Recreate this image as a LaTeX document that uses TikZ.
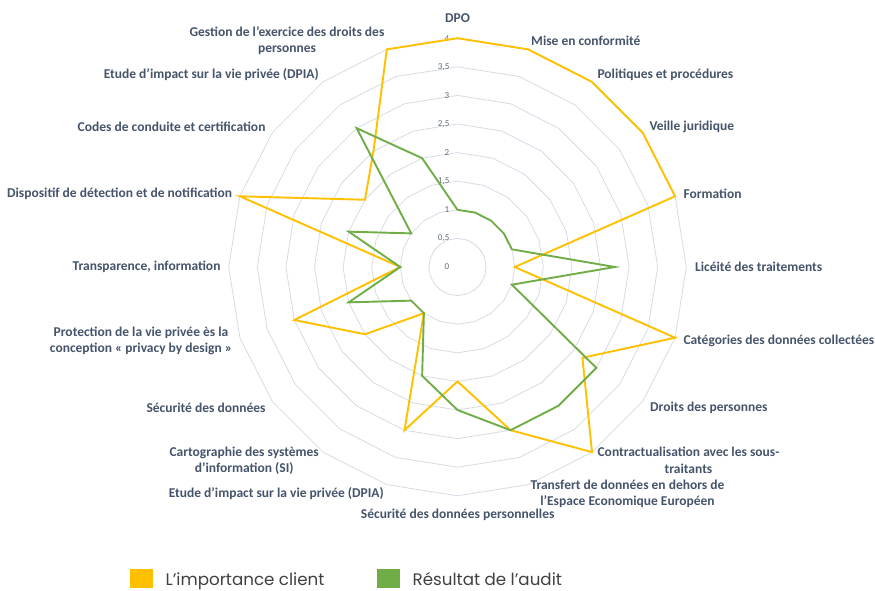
\documentclass[tikz,border=0pt]{standalone}
\usepackage{fontspec}
\setmainfont{Carlito}
\newfontfamily\legendfont{Poppins}
\usetikzlibrary{positioning}
\definecolor{clientyellow}{HTML}{FFC000}
\definecolor{auditgreen}{HTML}{70AD47}
\definecolor{gridgrey}{HTML}{D6DBE4}
\definecolor{labelslate}{HTML}{44546A}
\definecolor{tickgrey}{HTML}{5F6B7A}
\definecolor{legendgrey}{HTML}{404040}
\tikzset{
x=1pt, y=-1pt,
axis label/.style={font=\bfseries\fontsize{13.5}{16.5}\selectfont, text=labelslate, align=center, inner sep=0pt},
tick label/.style={font=\fontsize{9}{10}\selectfont, text=tickgrey, anchor=east, inner sep=0pt},
ring/.style={draw=gridgrey, line width=0.8pt},
series/.style={line width=1.9pt, line join=miter},
legend box/.style={minimum width=23pt, minimum height=19pt, inner sep=0pt},
legend text/.style={font=\legendfont\fontsize{16.7}{20}\selectfont, text=legendgrey, anchor=base west, inner sep=0pt}
}

\begin{document}
\begin{tikzpicture}
\useasboundingbox (0,0) rectangle (875,590);

% grid and series, centred on the chart origin
\begin{scope}[shift={(457.5,267)}]
\foreach \v in {0.5,1,...,4}
  \draw[ring] plot[samples=21, domain=0:360] ({57.2*\v*sin(\x)},{-57.2*\v*cos(\x)});
\foreach \v/\t in {0/0,0.5/{0,5},1/1,1.5/{1,5},2/2,2.5/{2,5},3/3,3.5/{3,5},4/4}
  \node[tick label] at (-8,{-57.2*\v}) {\t};

\foreach \val [count=\i from 0] in {4,4,4,4,4,1,4,2.7,4,3,2,3,1,2,3,1,4,2,2.5,4}
  \coordinate (y\i) at ({57.2*\val*sin(18*\i)},{-57.2*\val*cos(18*\i)});
\foreach \val [count=\i from 0] in {1,1,1,1,1,2.75,1,3,3,3,2.5,2,1,1,2,1,2,1,3,2}
  \coordinate (g\i) at ({57.2*\val*sin(18*\i)},{-57.2*\val*cos(18*\i)});

\draw[series, draw=clientyellow] (y0) \foreach \i in {1,...,19}{ -- (y\i)} -- cycle;
\draw[series, draw=auditgreen] (g0) \foreach \i in {1,...,19}{ -- (g\i)} -- cycle;
\end{scope}

% axis labels
\node[axis label]             (dpo)          at (457.5,18)  {DPO};
\node[axis label,anchor=west] (mise)         at (531,40.7)  {Mise en conformité};
\node[axis label,anchor=west] (politiques)   at (597.3,74.7) {Politiques et procédures};
\node[axis label,anchor=west] (veille)       at (649.3,126.7) {Veille juridique};
\node[axis label,anchor=west] (formation)    at (683.3,193.3) {Formation};
\node[axis label,anchor=west] (liceite)      at (695,266.7) {Licéité des traitements};
\node[axis label,anchor=west] (categories)   at (683.3,340.7) {Catégories des données collectées};
\node[axis label,anchor=west] (droits)       at (650,407.7) {Droits des personnes};
\node[axis label]             (contrat)      at (688.5,460.3) {Contractualisation avec les sous-\\traitants};
\node[axis label]             (transfert)    at (627.5,493.7) {Transfert de données en dehors de\\l’Espace Economique Européen};
\node[axis label]             (secdp)        at (457.7,515) {Sécurité des données personnelles};
\node[axis label]             (etudebas)     at (276.3,493.3) {Etude d’impact sur la vie privée (DPIA)};
\node[axis label]             (carto)        at (244.2,460.7) {Cartographie des systèmes\\d’information (SI)};
\node[axis label,anchor=east] (secdon)       at (265.7,407.7) {Sécurité des données};
\node[axis label]             (protection)   at (141,340.8) {Protection de la vie privée ès la\\conception « privacy by design »};
\node[axis label,anchor=east] (transparence) at (220.7,266.7) {Transparence, information};
\node[axis label,anchor=east] (dispositif)   at (232.3,194) {Dispositif de détection et de notification};
\node[axis label,anchor=east] (codes)        at (265.7,126.7) {Codes de conduite et certification};
\node[axis label,anchor=east] (etudehaut)    at (319,74.7) {Etude d’impact sur la vie privée (DPIA)};
\node[axis label]             (gestion)      at (287,40.8) {Gestion de l’exercice des droits des\\personnes};

% legend
\node[legend box, fill=clientyellow] (keyclient) at (141.7,578) {};
\node[legend text] (txtclient) at ([xshift=12pt,yshift=2pt]keyclient.south east) {L’importance client};
\node[legend box, fill=auditgreen] (keyaudit) at (388.8,578) {};
\node[legend text] (txtaudit) at ([xshift=12pt,yshift=2pt]keyaudit.south east) {Résultat de l’audit};
\end{tikzpicture}
\end{document}
